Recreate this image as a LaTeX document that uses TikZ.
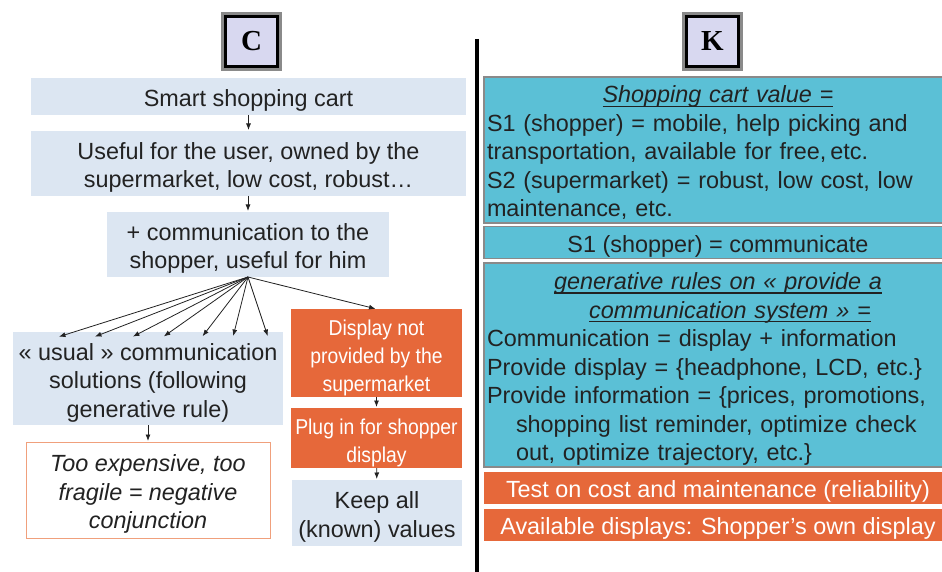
\documentclass[tikz,border=0pt]{standalone}
\usepackage{fontspec}
\setmainfont{Liberation Sans}
\newfontfamily\hdrfont{Liberation Serif}
\newfontfamily\narrowfont[FakeStretch=0.9]{Liberation Sans}
\usetikzlibrary{arrows.meta}
\definecolor{paleblue}{HTML}{DCE6F2}
\definecolor{tealbox}{HTML}{5BC0D6}
\definecolor{rust}{HTML}{E6683A}
\definecolor{rustline}{HTML}{F0A07C}
\definecolor{lav}{HTML}{D8D8F0}
\definecolor{ink}{HTML}{222222}
\definecolor{rim}{HTML}{8A8A8A}
% fixed struts for the first and last line of every box, so that the
% text sits at the same place whatever letters it contains
\newcommand\topstrut{\rule{0pt}{26pt}}
\newcommand\botstrut{\rule[-6pt]{0pt}{6pt}}
% underline placed just under the baseline, crossing the descenders
\newcommand\ulin[1]{{\setbox0\hbox{#1}\rlap{\rule[-4pt]{\wd0}{1.1pt}}\box0}}
\begin{document}
\begin{tikzpicture}[x=1pt,y=-1pt,
  every node/.style={font=\fontsize{23.4}{28.5}\selectfont, text=ink, inner sep=0pt, outer sep=0pt},
  lbox/.style={fill=paleblue, align=center},
  obox/.style={fill=rust, text=white, align=center, font=\fontsize{21.5}{28}\selectfont\narrowfont},
  nbox/.style={fill=white, draw=rustline, line width=1pt, align=center, font=\fontsize{23.4}{28.5}\selectfont\itshape},
  tbox/.style={fill=tealbox, draw=rim, line width=1.5pt, minimum width=468, inner xsep=3pt},
  rbox/.style={fill=rust, text=white, minimum width=468},
  hdr/.style={draw=rim, line width=3pt, fill=lav, minimum width=58, minimum height=56,
              font=\fontsize{29}{30}\selectfont\hdrfont\bfseries, text=black},
  arr/.style={-{Latex[length=6.5pt,width=5pt]}, line width=0.8pt, draw=ink, shorten >=1pt}]

\useasboundingbox (0,0) rectangle (942,572);
\clip (0,0) rectangle (942,572);

% column headings
\node[hdr] (hc) at (251.5,41.5) {C};
\draw[line width=3pt, black] ([shift={(3,3)}]hc.north west) rectangle ([shift={(-3,-3)}]hc.south east);
\node[hdr] (hk) at (712.5,41.5) {K};
\draw[line width=3pt, black] ([shift={(3,3)}]hk.north west) rectangle ([shift={(-3,-3)}]hk.south east);

% divider between the two columns
\draw[line width=3.5pt, black] (477,39) -- (477,572);

% ---- C side ----
\node[lbox, minimum width=435, minimum height=37] (b1) at (248.5,96.5) {\topstrut Smart shopping cart\botstrut};
\node[lbox, minimum width=435, minimum height=65] (b2) at (248.5,163.5)
  {\topstrut Useful for the user, owned by the\\supermarket, low cost, robust…\botstrut};
\node[lbox, minimum width=282, minimum height=65] (b3) at (248,244.5)
  {\topstrut + communication to the\\shopper, useful for him\botstrut};
\node[lbox, minimum width=270, minimum height=93] (b4) at (148,378.5)
  {\topstrut « usual » communication\\solutions (following\\generative rule)\botstrut};
\node[nbox, minimum width=244, minimum height=96] (b5) at (148,490)
  {\topstrut Too expensive, too\\fragile = negative\\conjunction\botstrut};
\node[obox, minimum width=171, minimum height=88] (o1) at (376.5,353)
  {\topstrut Display not\\provided by the\\supermarket\botstrut};
\node[obox, minimum width=171, minimum height=58] (o2) at (376.5,438)
  {\topstrut Plug in for shopper\\display\botstrut};
\node[lbox, minimum width=170, minimum height=66] (b6) at (377,513)
  {\topstrut Keep all\\(known) values\botstrut};

\draw[arr] (b1) -- (b2);
\draw[arr] (b2.south -| b3.north) -- (b3.north);
\foreach \x [count=\i] in {58,94,132,163,202,233,268}
  \coordinate (t\i) at (\x,337);
\foreach \i in {1,...,7}
  \draw[arr] (b3.south) -- (t\i);
\draw[arr] (b3.south) -- (o1.north);
\draw[arr] (b4) -- (b5);
\draw[arr] (o1) -- (o2);
\draw[arr] (o2) -- (b6);

% ---- K side ----
\node[tbox, text width=462, minimum height=144, align=left] (r1) at (718,150)
  {\topstrut\makebox[\linewidth]{\ulin{\itshape Shopping cart value =}}\\
   S1 (shopper) = mobile, help picking and\\
   transportation, available for free,\,etc.\\
   S2 (supermarket) = robust, low cost, low\\
   maintenance, etc.\botstrut};
\node[tbox, minimum height=31] (r2) at (718,242.5) {\topstrut S1 (shopper) = communicate\botstrut};
\node[tbox, text width=462, minimum height=204, align=left] (r3) at (718,365)
  {\topstrut\makebox[\linewidth]{\ulin{\itshape generative rules on « provide a}}\\
   \makebox[\linewidth]{\hspace{24pt}\ulin{\itshape communication system » =}}\\
   Communication = display + information\\
   Provide display = \{headphone, LCD, etc.\}\\
   Provide information = \{prices, promotions,\\
   \hspace*{29pt}shopping list reminder, optimize check\\
   \hspace*{29pt}out, optimize trajectory, etc.\}\botstrut};
\node[rbox, minimum height=31] (r4) at (718,487.5) {\topstrut Test on cost and maintenance (reliability)\botstrut};
\node[rbox, minimum height=31] (r5) at (718,524.5) {\topstrut Available displays: Shopper's own display\botstrut};
\end{tikzpicture}
\end{document}
